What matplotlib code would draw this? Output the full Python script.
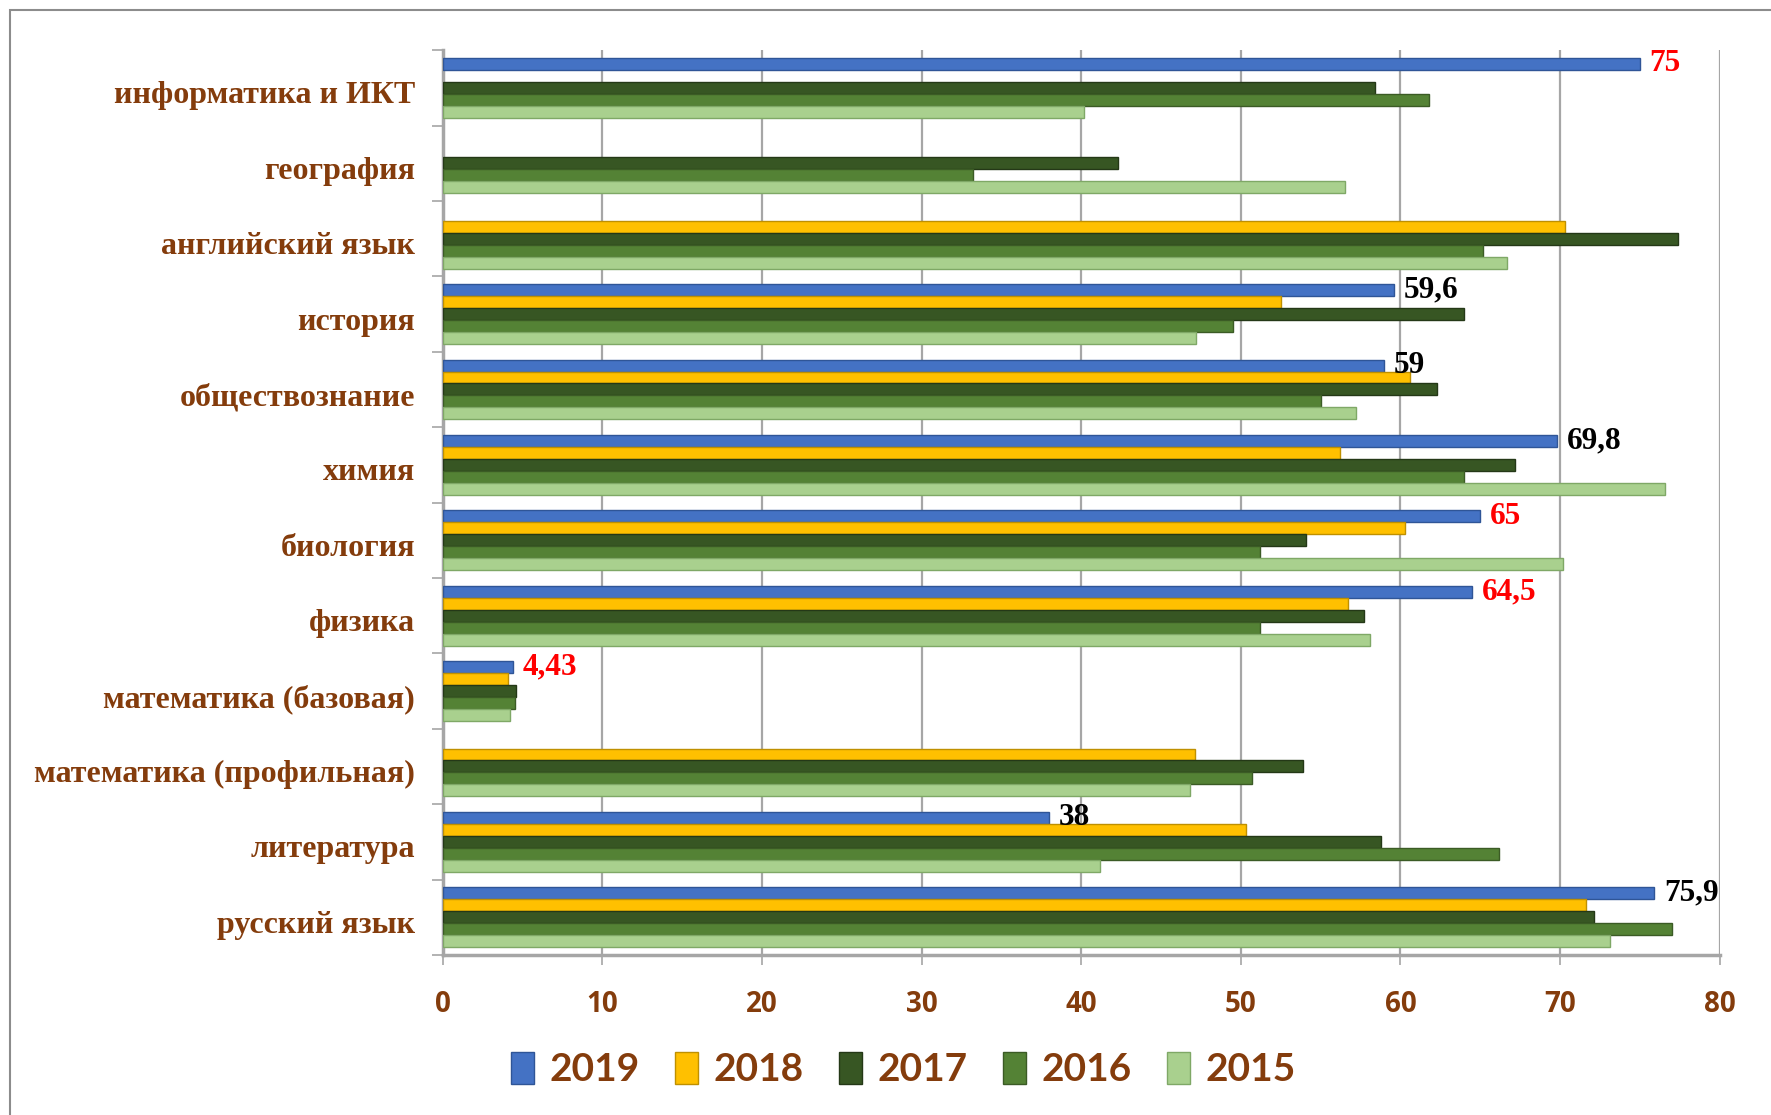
import matplotlib.pyplot as plt
import numpy as np
from matplotlib.patches import Rectangle

# данные (по картинке), сверху вниз
subjects = ["информатика и ИКТ", "география", "английский язык", "история",
            "обществознание", "химия", "биология", "физика",
            "математика (базовая)", "математика (профильная)", "литература",
            "русский язык"]
years = ["2019", "2018", "2017", "2016", "2015"]

v2019 = [75, None, None, 59.6, 59, 69.8, 65, 64.5, 4.43, None, 38, 75.9]
v2018 = [None, None, 70.3, 52.5, 60.6, 56.2, 60.3, 56.7, 4.1, 47.1, 50.3, 71.6]
v2017 = [58.4, 42.3, 77.4, 64.0, 62.3, 67.2, 54.1, 57.7, 4.6, 53.9, 58.8, 72.1]
v2016 = [61.8, 33.2, 65.2, 49.5, 55.0, 64.0, 51.2, 51.2, 4.5, 50.7, 66.2, 77.0]
v2015 = [40.2, 56.5, 66.7, 47.2, 57.2, 76.6, 70.2, 58.1, 4.2, 46.8, 41.2, 73.1]

labels_2019 = ["75", None, None, "59,6", "59", "69,8", "65", "64,5", "4,43", None, "38", "75,9"]
label_colors = ["red", None, None, "black", "black", "black", "red", "red", "red", None, "black", "black"]

series = [v2019, v2018, v2017, v2016, v2015]
colors = ["#4472C4", "#FFC000", "#375623", "#548235", "#A9D08E"]
edges = ["#2F5597", "#BF9000", "#243817", "#3B5B25", "#7FA866"]

brown = "#843C0C"
grey = "#A6A6A6"

fig = plt.figure(figsize=(17.71, 11.15), dpi=100)
ax = fig.add_axes([0.250, 0.1435, 0.721, 0.8115])

# рамка вокруг всего слайда
fig.patches.append(Rectangle((10 / 1771, -0.1), 1.2, 1 - 10 / 1115 + 0.1,
                             transform=fig.transFigure, fill=False,
                             edgecolor="#8C8C8C", linewidth=1.5))

y = np.arange(len(subjects))
h = 0.159
for k, vals in enumerate(series):
    pos = y + (k - 2) * h
    w = [np.nan if v is None else v for v in vals]
    ax.barh(pos, w, height=h, color=colors[k], edgecolor=edges[k],
            linewidth=1.0, label=years[k], zorder=3)

# подписи 2019
for i, (v, t, c) in enumerate(zip(v2019, labels_2019, label_colors)):
    if t is None:
        continue
    ax.text(v + 0.6, y[i] - 2 * h, t, color=c, fontsize=22.5,
            fontweight="bold", family="Liberation Serif",
            ha="left", va="center", zorder=4)

ax.set_xlim(0, 80)
ax.set_ylim(len(subjects) - 0.5, -0.5)
ax.set_xticks(np.arange(0, 81, 10))
ax.set_yticks(y + 0.06)
ax.set_yticklabels(subjects, fontsize=23, fontweight="bold",
                   family="Liberation Serif", color=brown)
ax.set_yticks(np.arange(-0.5, len(subjects), 1), minor=True)
ax.tick_params(axis="y", which="major", length=0, pad=20)
ax.tick_params(axis="y", which="minor", length=8, color=grey, width=1.2)
ax.tick_params(axis="x", length=7, color=grey, width=1.2, pad=18,
               labelsize=20, labelcolor=brown)
for lab in ax.get_xticklabels():
    lab.set_fontweight("bold")
    lab.set_family("Open Sans")

ax.grid(axis="x", color=grey, linewidth=1.6, zorder=0)
for s in ["top", "right"]:
    ax.spines[s].set_visible(False)
ax.spines["left"].set_color(grey)
ax.spines["left"].set_linewidth(2.5)
ax.spines["bottom"].set_color(grey)
ax.spines["bottom"].set_linewidth(2.5)

leg = fig.legend(loc="center", bbox_to_anchor=(0.51, 0.041), ncol=5,
                 frameon=False, handlelength=0.6, handleheight=0.9,
                 handletextpad=0.4, columnspacing=0.9,
                 prop={"family": "Lato", "weight": "bold", "size": 28})
for t in leg.get_texts():
    t.set_color(brown)

fig.savefig("out.png", dpi=100)
